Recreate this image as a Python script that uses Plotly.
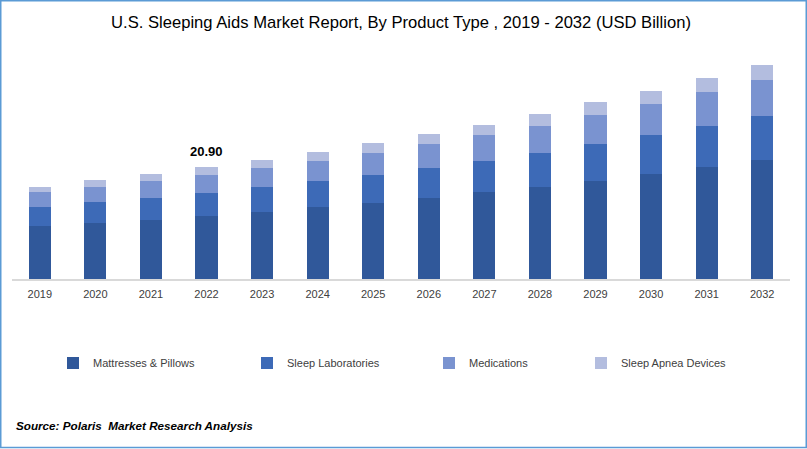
import plotly.graph_objects as go

years = [str(y) for y in range(2019, 2033)]
mattresses_pillows = [9.85, 10.41, 10.98, 11.72, 12.47, 13.49, 14.23, 15.17, 16.30, 17.23, 18.41, 19.54, 20.85, 22.16]
sleep_laboratories = [3.56, 3.93, 4.12, 4.31, 4.68, 4.87, 5.24, 5.62, 5.81, 6.37, 6.74, 7.30, 7.68, 8.24]
medications = [2.81, 2.81, 3.18, 3.37, 3.56, 3.69, 4.12, 4.50, 4.87, 5.06, 5.43, 5.81, 6.37, 6.74]
sleep_apnea_devices = [1.07, 1.31, 1.31, 1.50, 1.50, 1.74, 1.87, 1.87, 1.87, 2.25, 2.43, 2.43, 2.62, 2.81]

series = [
    ("Mattresses & Pillows", mattresses_pillows, "#30589A"),
    ("Sleep Laboratories", sleep_laboratories, "#3D6AB7"),
    ("Medications", medications, "#7A93D0"),
    ("Sleep Apnea Devices", sleep_apnea_devices, "#B3BDDF"),
]

label_year = "2022"
label_total = 20.90

FONT = "Liberation Sans, Arial, sans-serif"

W, H = 807, 449
L, R, T, B = 12, 17, 65, 170
pw = W - L - R
ph = H - T - B

def px_x(p):
    return (p - L) / pw

def px_y(p):
    return (H - B - p) / ph

fig = go.Figure()
legend_names = ["legend", "legend2", "legend3", "legend4"]
legend_text_x = [96, 290, 472, 624]
for (name, vals, color), lg in zip(series, legend_names):
    fig.add_trace(go.Bar(
        x=years, y=vals, name=name, marker=dict(color=color, line=dict(width=0)),
        legend=lg, hoverinfo="x+y+name",
    ))

fig.add_annotation(
    x=years.index(label_year), y=label_total, xref="x", yref="y", text="<b>20.90</b>",
    showarrow=False, yanchor="bottom", yshift=6,
    font=dict(family=FONT, size=13, color="#000000"),
)

fig.add_annotation(
    x=px_x(14), y=px_y(425), xref="paper", yref="paper",
    text="<b><i>Source: Polaris  Market Research Analysis</i></b>",
    showarrow=False, xanchor="left", yanchor="middle",
    font=dict(family=FONT, size=11.7, color="#000000"),
)

fig.add_shape(
    type="rect", xref="paper", yref="paper",
    x0=px_x(0.75), x1=px_x(806.25), y0=px_y(447.5), y1=px_y(0.75),
    line=dict(color="#5B9BD5", width=1.5), fillcolor="rgba(0,0,0,0)", layer="below",
)

legend_common = dict(
    orientation="h", yanchor="middle", xanchor="left",
    font=dict(family=FONT, size=11, color="#404040"),
    bgcolor="rgba(0,0,0,0)", borderwidth=0, itemclick=False, itemdoubleclick=False,
)
legends = {}
for lg, tx in zip(legend_names, legend_text_x):
    legends[lg] = dict(legend_common, x=px_x(tx - 43), y=px_y(363))

fig.update_layout(
    width=W, height=H,
    margin=dict(l=L, r=R, t=T, b=B, autoexpand=False),
    barmode="stack", bargap=0.6,
    paper_bgcolor="#FFFFFF", plot_bgcolor="#FFFFFF",
    title=dict(
        text="U.S. Sleeping Aids Market Report, By Product Type , 2019 - 2032 (USD Billion)",
        x=0.5, xref="paper", xanchor="center", y=1 - 22 / H, yanchor="middle",
        font=dict(family=FONT, size=16.6, color="#000000"),
    ),
    xaxis=dict(
        type="category", range=[-0.5, len(years) - 0.5],
        showgrid=False, zeroline=False, showline=True,
        linecolor="#D9D9D9", linewidth=1.5, ticks="",
        tickfont=dict(family=FONT, size=11, color="#404040"),
        ticklabelstandoff=4,
    ),
    yaxis=dict(range=[0, 40], visible=False, showgrid=False, zeroline=False),
    showlegend=True,
    **legends,
)

fig.write_html(
    "out.html",
    config={"displayModeBar": False},
    post_script="document.body.style.margin='0';",
)
